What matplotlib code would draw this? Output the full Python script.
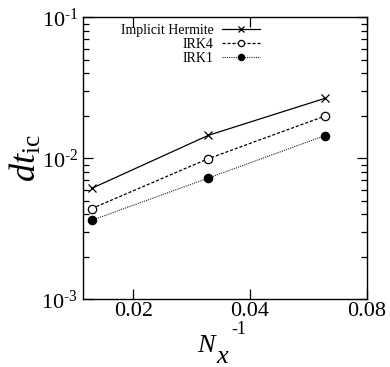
import matplotlib
matplotlib.use("Agg")
import matplotlib.pyplot as plt
import numpy as np
from matplotlib.transforms import IdentityTransform
from matplotlib.ticker import LogLocator, NullLocator, FixedLocator, FixedFormatter, NullFormatter, FuncFormatter

plt.rcParams['font.family'] = ['Liberation Serif', 'DejaVu Serif']
plt.rcParams['mathtext.fontset'] = 'custom'
plt.rcParams['mathtext.rm'] = 'Liberation Serif'
plt.rcParams['mathtext.it'] = 'Liberation Serif:italic'

# inverse grid resolution and critical time step for each scheme
inv_nx = [1/64, 1/32, 1/16]
dt_hermite = [0.00612, 0.01456, 0.02665]
dt_irk4 = [0.00440, 0.00995, 0.01995]
dt_irk1 = [0.00363, 0.00725, 0.01450]

xticks = [0.02, 0.04, 0.08]
xtick_labels = ['0.02', '0.04', '0.08']

W, H = 390, 367
fig = plt.figure(figsize=(W / 100, H / 100), dpi=100)
ax = fig.add_axes([83/W, 1 - 299.3/H, (366.7 - 83)/W, (299.3 - 17.3)/H])

ax.plot(inv_nx, dt_hermite, color='black', lw=0.9, ls='-', marker='x',
        ms=6, mew=0.9, label='Implicit Hermite')
ax.plot(inv_nx, dt_irk4, color='black', lw=0.9, ls=(0, (2.5, 1.5)), marker='o',
        ms=6, mfc='white', mew=0.9, label='IRK4')
ax.plot(inv_nx, dt_irk1, color='#222222', lw=0.8, ls=(0, (1, 1)), marker='o',
        ms=6, mfc='black', mec='black', mew=0.9, label='IRK1')

ax.set_xscale('log')
ax.set_yscale('log')
ax.set_xlim(0.01484, 0.08)
ax.set_ylim(1e-3, 1e-1)


def decade_label(v, pos):
    e = int(round(np.log10(v)))
    return r'$10^{\text{%s}}$' % ('-%d' % -e if e < 0 else '%d' % e)


ax.xaxis.set_major_locator(FixedLocator(xticks))
ax.xaxis.set_major_formatter(FixedFormatter(xtick_labels))
ax.xaxis.set_minor_locator(NullLocator())
ax.xaxis.set_minor_formatter(NullFormatter())
ax.yaxis.set_major_locator(LogLocator(base=10, numticks=5))
ax.yaxis.set_major_formatter(FuncFormatter(decade_label))
ax.yaxis.set_minor_locator(LogLocator(base=10, subs=range(2, 10), numticks=20))
ax.yaxis.set_minor_formatter(NullFormatter())

ax.tick_params(which='both', direction='in', top=True, right=True, labelsize=16, width=0.9)
ax.tick_params(which='major', length=7)
ax.tick_params(which='minor', length=4)
ax.tick_params(axis='x', pad=2)
for s in ax.spines.values():
    s.set_linewidth(1.0)

# x-axis label N_x^-1 set piece by piece (pixel positions, origin bottom-left)
px = IdentityTransform()
fig.text(197, H - 352, 'N', transform=px, fontsize=19, style='italic', va='baseline')
fig.text(216, H - 363, 'x', transform=px, fontsize=19, style='italic', va='baseline')
fig.text(231, H - 334, '-1', transform=px, fontsize=13, va='baseline')

ax.set_ylabel(r'$dt_{\mathrm{ic}}$', fontsize=26, labelpad=-2)

leg = ax.legend(loc='upper right', bbox_to_anchor=(0.645, 1.0), markerfirst=False,
                frameon=False, fontsize=10, handlelength=2.7, numpoints=1,
                markerscale=0.75, labelspacing=0.1, handletextpad=0.6,
                borderaxespad=0.0, borderpad=0.45)

fig.savefig('out.png', dpi=100)
